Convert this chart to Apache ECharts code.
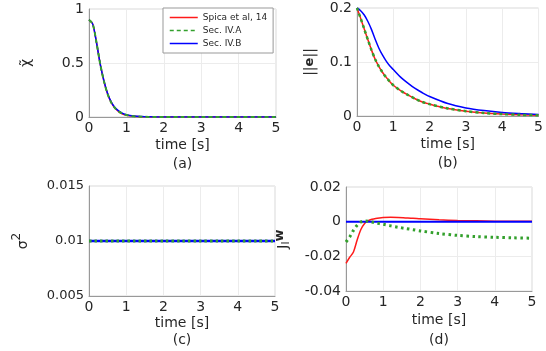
<!DOCTYPE html>
<html>
<head>
<meta charset="utf-8">
<script src="https://cdn.jsdelivr.net/npm/echarts@6/dist/echarts.min.js"></script>
<style>
    html, body { margin: 0; padding: 0; background: #fff; }
</style>
</head>
<body>
<div id="chart" style="width:546px;height:351px;"></div>
<script type="text/javascript">
    // time samples [s]
    var time = [0, 0.1, 0.2, 0.3, 0.4, 0.5, 0.6, 0.7, 0.8, 0.9, 1.0, 1.2, 1.4, 1.6, 1.8, 2.0, 2.5, 3.0, 3.5, 4.0, 4.5, 5.0];
    var names = ['Spica et al, 14', 'Sec. IV.A', 'Sec. IV.B'];

    // (a) chi tilde
    var chiRed   = [0.9, 0.86, 0.69, 0.49, 0.33, 0.21, 0.13, 0.08, 0.048, 0.028, 0.016, 0.006, 0.002, 0.001, 0.0004, 0, 0, 0, 0, 0, 0, 0];
    var chiGreen = [0.9, 0.86, 0.69, 0.49, 0.33, 0.21, 0.13, 0.08, 0.05, 0.03, 0.018, 0.007, 0.003, 0.001, 0.0005, 0, 0, 0, 0, 0, 0, 0];
    var chiBlue  = [0.9, 0.86, 0.69, 0.49, 0.335, 0.215, 0.135, 0.085, 0.054, 0.034, 0.021, 0.009, 0.004, 0.0015, 0.0006, 0.0002, 0, 0, 0, 0, 0, 0];
    // (b) ||e||
    var eRed   = [0.2, 0.181, 0.161, 0.141, 0.122, 0.105, 0.092, 0.081, 0.072, 0.064, 0.057, 0.047, 0.039, 0.032, 0.026, 0.022, 0.014, 0.009, 0.0055, 0.0035, 0.0022, 0.0015];
    var eGreen = [0.2, 0.181, 0.161, 0.141, 0.122, 0.105, 0.092, 0.081, 0.072, 0.064, 0.057, 0.047, 0.039, 0.032, 0.026, 0.022, 0.014, 0.009, 0.0055, 0.0035, 0.0022, 0.0015];
    var eBlue  = [0.2, 0.195, 0.187, 0.175, 0.16, 0.142, 0.126, 0.113, 0.102, 0.093, 0.086, 0.072, 0.061, 0.051, 0.043, 0.036, 0.023, 0.015, 0.01, 0.0065, 0.0045, 0.003];
    // (c) sigma^2
    var sRed   = [0.01, 0.01, 0.01, 0.01, 0.01, 0.01, 0.01, 0.01, 0.01, 0.01, 0.01, 0.01, 0.01, 0.01, 0.01, 0.01, 0.01, 0.01, 0.01, 0.01, 0.01, 0.01];
    var sGreen = [0.01, 0.01, 0.01, 0.01, 0.01, 0.01, 0.01, 0.01, 0.01, 0.01, 0.01, 0.01, 0.01, 0.01, 0.01, 0.01, 0.01, 0.01, 0.01, 0.01, 0.01, 0.01];
    var sBlue  = [0.01, 0.01, 0.01, 0.01, 0.01, 0.01, 0.01, 0.01, 0.01, 0.01, 0.01, 0.01, 0.01, 0.01, 0.01, 0.01, 0.01, 0.01, 0.01, 0.01, 0.01, 0.01];
    // (d) J_l w
    var jRed   = [-0.024, -0.0205, -0.0175, -0.0105, -0.0045, -0.001, 0.0006, 0.0014, 0.0019, 0.0022, 0.0024, 0.0025, 0.0024, 0.0022, 0.002, 0.0017, 0.0011, 0.0007, 0.0005, 0.0003, 0.0002, 0.0002];
    var jGreen = [-0.0117, -0.0088, -0.005, -0.002, -0.0002, 0.0004, 0.0003, -0.0002, -0.0007, -0.0011, -0.0015, -0.0024, -0.0032, -0.0039, -0.0046, -0.0053, -0.0068, -0.0079, -0.0086, -0.009, -0.0093, -0.0095];
    var jBlue  = [0, 0, 0, 0, 0, 0, 0, 0, 0, 0, 0, 0, 0, 0, 0, 0, 0, 0, 0, 0, 0, 0];

    var colors = ['#ff1a1a', '#33a02c', '#0000ff'];
    var font = 'DejaVu Sans';
    var txt = '#262626';

    function pairs(v) {
        return time.map(function (t, i) { return [t, v[i]]; });
    }
    function numFmt(v) { return String(+v.toFixed(4)); }

    var panels = [
        {grid: {left: 89, right: 270, top: 9, height: 108}, min: 0, max: 1, step: 0.5, data: [chiRed, chiGreen, chiBlue],
         yname: 'χ̃', ygap: 56, xname: 'time [s]\n(a)', lh: 19, widths: [1.5, 2, 1.5], dash: [4, 3]},
        {grid: {left: 357, right: 2, top: 8, height: 108}, min: 0, max: 0.2, step: 0.1, data: [eRed, eGreen, eBlue],
         yname: '||{b|e}||', ygap: 40, xname: 'time [s]\n(b)', lh: 19, widths: [1.5, 2.5, 1.5], dash: [3, 3]},
        {grid: {left: 89, right: 271, top: 186, height: 110}, min: 0.005, max: 0.015, step: 0.005, data: [sRed, sGreen, sBlue],
         yname: '{n|σ}{sup|2}', ygap: 54, xname: 'time [s]\n(c)', lh: 17, widths: [2, 3, 2.5], dash: [2.5, 3]},
        {grid: {left: 346, right: 14, top: 187, height: 110}, min: -0.04, max: 0.02, step: 0.02, data: [jRed, jGreen, jBlue],
         yname: '{n|J}{sub|l}{b|w}', ygap: 52, xname: 'time [s]\n(d)', lh: 20, widths: [1.5, 3, 2], dash: [2.5, 3.5]}
    ];

    var grids = [], xAxes = [], yAxes = [], series = [];
    panels.forEach(function (p, k) {
        grids.push(Object.assign({show: true, borderColor: '#d9d9d9', borderWidth: 1, backgroundColor: '#fff'}, p.grid));
        xAxes.push({
            gridIndex: k, type: 'value', min: 0, max: 5, interval: 1,
            axisLine: {onZero: false, lineStyle: {color: '#999'}},
            axisTick: {show: false},
            splitLine: {lineStyle: {color: '#ececec'}},
            axisLabel: {color: txt, fontSize: 14, fontFamily: font, margin: 4},
            name: p.xname, nameLocation: 'middle', nameGap: k < 2 ? 19 : 15,
            nameTextStyle: {color: txt, fontSize: 14, fontFamily: font, lineHeight: p.lh, verticalAlign: 'top'}
        });
        yAxes.push({
            gridIndex: k, type: 'value', min: p.min, max: p.max, interval: p.step,
            axisLine: {show: true, lineStyle: {color: '#999'}},
            axisTick: {show: false},
            splitLine: {lineStyle: {color: '#ececec'}},
            axisLabel: {color: txt, fontSize: k == 2 ? 13 : 14, fontFamily: font, margin: 5, formatter: numFmt},
            name: p.yname, nameLocation: 'middle', nameRotate: 90, nameGap: p.ygap,
            nameTextStyle: {
                color: txt, fontSize: 14, fontFamily: font,
                rich: {
                    b: {fontWeight: 'bold', fontSize: 13, fontFamily: font, color: txt, padding: k == 3 ? [0, 0, 8, 0] : 0},
                    n: {fontSize: 14, fontFamily: font, color: txt},
                    sup: {fontSize: 12, fontFamily: font, color: txt, padding: [0, 0, 12, 0]},
                    sub: {fontSize: 11, fontFamily: font, color: txt, padding: [6, 0, 0, 0]}
                }
            }
        });
        p.data.forEach(function (v, i) {
            series.push({
                name: names[i], type: 'line', xAxisIndex: k, yAxisIndex: k,
                data: pairs(v), smooth: 0.3, symbol: 'none',
                z: i == 1 ? 4 : 3,
                lineStyle: {color: colors[i], width: p.widths[i], type: i == 1 ? p.dash : 'solid'},
                itemStyle: {color: colors[i]}
            });
        });
    });

    var myChart = echarts.init(document.getElementById('chart'));
    var option = {
        animation: false,
        backgroundColor: '#fff',
        legend: {
            data: names, orient: 'vertical', left: 163, top: 8,
            itemWidth: 28, itemHeight: 10, itemGap: 4,
            padding: [5, 6, 5, 6],
            backgroundColor: '#fff', borderColor: '#999', borderWidth: 1,
            itemStyle: {opacity: 0},
            lineStyle: {width: 1.5},
            textStyle: {color: txt, fontSize: 9, fontFamily: font}
        },
        grid: grids,
        xAxis: xAxes,
        yAxis: yAxes,
        series: series
    };
    myChart.setOption(option, true);
</script>
</body>
</html>
